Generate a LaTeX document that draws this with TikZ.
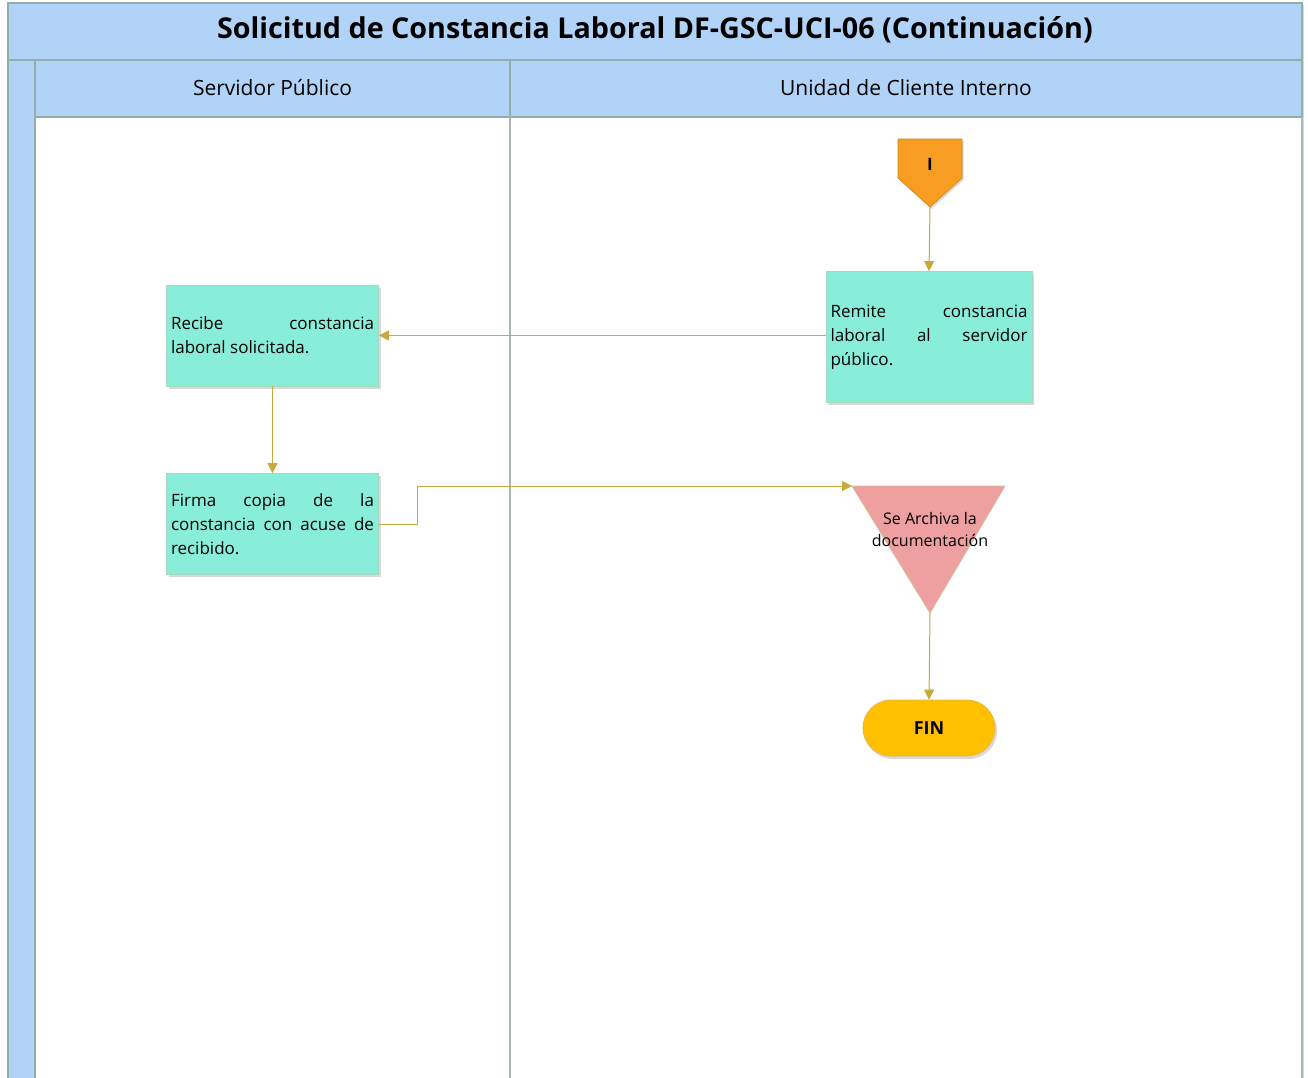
\documentclass[tikz,border=0pt]{standalone}
\usepackage{fontspec}
\setmainfont{Open Sans}
\usetikzlibrary{arrows.meta,shadows}

\definecolor{bandblue}{HTML}{B1D3F8}
\definecolor{bandline}{HTML}{8FAFA8}
\definecolor{lanegray}{HTML}{A9B8B4}
\definecolor{taskfill}{HTML}{88EED9}
\definecolor{taskline}{HTML}{A6D8BE}
\definecolor{flowgold}{HTML}{C9A83C}
\definecolor{offpage}{HTML}{F79D22}
\definecolor{archfill}{HTML}{EE9FA0}
\definecolor{archline}{HTML}{D9BC98}
\definecolor{endfill}{HTML}{FFC000}
\definecolor{endline}{HTML}{E5B84A}

% justified task text without hyphenation
\newcommand\tasktext{\fontsize{17}{24}\selectfont\hyphenpenalty 10000\exhyphenpenalty 10000\relax}

\tikzset{
  band/.style={fill=bandblue, draw=bandline, line width=1.2pt},
  taskbox/.style={rectangle, fill=taskfill, draw=taskline, line width=0.8pt,
    align=justify, inner xsep=4.5pt, inner ysep=0pt, font=\tasktext,
    drop shadow={shadow xshift=2pt, shadow yshift=-2.5pt, opacity=0.15, fill=black}},
  flow/.style={draw=flowgold, line width=1pt, -{Triangle[length=10pt,width=10pt]}},
  lanetitle/.style={font=\fontsize{21}{24}\selectfont},
}

\begin{document}
\begin{tikzpicture}[x=1pt,y=-1pt]
\useasboundingbox (0,0) rectangle (1308,1077);
\fill[white] (0,0) rectangle (1308,1077);

% pool frame and bands
\fill[white, drop shadow={shadow xshift=1.5pt, shadow yshift=-1.5pt, opacity=0.15, fill=black}] (8,3) rectangle (1302,1080);
\draw[band] (8,3) rectangle (1302,60);
\draw[band] (8,60) rectangle (35,1080);
\draw[band] (35,60) rectangle (510,117);
\draw[band] (510,60) rectangle (1302,117);
\draw[lanegray, line width=1.5pt] (510,117) -- (510,1080);
\draw[lanegray, line width=1.5pt] (1302,117) -- (1302,1080);

\node[font=\fontsize{28.7}{34}\selectfont\bfseries] (title) at (655,30)
  {Solicitud de Constancia Laboral DF-GSC-UCI-06 (Continuación)};
\node[lanetitle] (lane1) at (272.5,88) {Servidor Público};
\node[lanetitle] (lane2) at (906,88) {Unidad de Cliente Interno};

% off-page connector
\draw[fill=offpage, draw=offpage!85!black, line width=0.6pt,
  drop shadow={shadow xshift=1.5pt, shadow yshift=-2pt, opacity=0.15, fill=black}]
  (898,139) -- (962,139) -- (962,178) -- (930,207) -- (898,178) -- cycle;
\node[font=\fontsize{17}{20}\selectfont\bfseries] (conI) at (930,164) {I};
\coordinate (conIbot) at (930,207);

% tasks
\node[taskbox, text width=197pt, minimum width=206pt, minimum height=131pt] (remite) at (929,337)
  {Remite constancia laboral al servidor público.};
\node[taskbox, text width=203pt, minimum width=212pt, minimum height=101pt] (recibe) at (272.5,335.5)
  {Recibe constancia\linebreak laboral solicitada.};
\node[taskbox, text width=203pt, minimum width=212pt, minimum height=101pt] (firma) at (272.5,524)
  {Firma copia de la constancia con acuse de recibido.};

% archive triangle
\draw[fill=archfill, draw=archline, line width=0.8pt] (852,486) -- (1005,486) -- (930,613) -- cycle;
\coordinate (archL) at (852,486);
\coordinate (archB) at (930,613);
\node[font=\fontsize{16}{22}\selectfont, align=center] (archtxt) at (930,529)
  {Se Archiva la\\documentación};

% end terminator
\node[rectangle, rounded corners=28pt, fill=endfill, draw=endline, line width=0.8pt,
  minimum width=132pt, minimum height=56pt, font=\fontsize{18}{20}\selectfont\bfseries,
  drop shadow={shadow xshift=2pt, shadow yshift=-3pt, opacity=0.15, fill=black}]
  (fin) at (929,728) {FIN};

% connectors
\draw[flow] (conIbot) -- (remite.north);
\draw[flow] (remite.west |- recibe.east) -- (recibe.east);
\draw[flow] (recibe.south) -- (firma.north);
\draw[flow] (firma.east) -- (417,524) |- (archL);
\draw[flow] (archB) -- (fin.north);
\end{tikzpicture}
\end{document}
